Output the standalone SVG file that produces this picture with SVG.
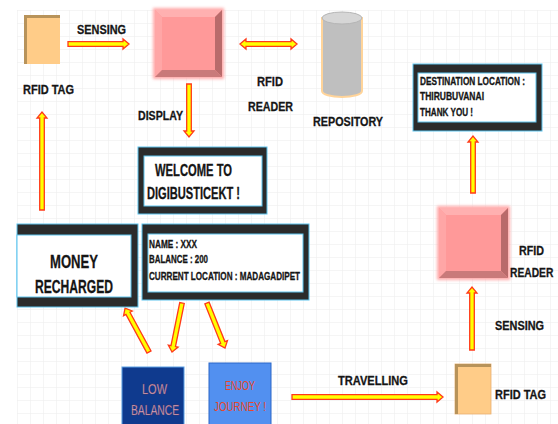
<svg xmlns="http://www.w3.org/2000/svg" width="558" height="424" viewBox="0 0 558 424">
<defs>
<pattern id="grid" x="17" y="10" width="13" height="13" patternUnits="userSpaceOnUse">
<path d="M0 0H13M0 0V13" fill="none" stroke="#ececec" stroke-width="1"/>
</pattern>
<filter id="glow" x="-20%" y="-20%" width="140%" height="140%"><feGaussianBlur stdDeviation="1.5"/></filter>
</defs>
<style>
.arr{fill:#ffff00;stroke:#ff3a1a;stroke-width:1.3;stroke-linejoin:miter}
.lbl{font-family:"Liberation Sans",Arial,sans-serif;font-weight:bold;fill:#151515;stroke:#151515;stroke-width:0.3}
.frame{fill:#2b2b2b;stroke:#5cc4ee;stroke-width:1}
.inner{fill:#ffffff;stroke:#5cc4ee;stroke-width:1}
.tag{fill:#ffcc88}
.tagedge{fill:#b8935a}
.box-text{font-family:"Liberation Sans",Arial,sans-serif}
</style>
<rect x="0" y="0" width="558" height="424" fill="#ffffff"/>
<rect x="17" y="10" width="541" height="414" fill="url(#grid)"/>

<g id="connectors">
<path class="arr" transform="translate(68,44)" d="M0,-2.3H55V-5L61,0L55,5V2.3H0Z"/>
<path class="arr" transform="translate(240,44)" d="M0,0L6,-5V-2.3H51V-5L57,0L51,5V2.3H6V5Z"/>
<path class="arr" transform="translate(189,84) rotate(90)" d="M0,-2.3H47V-5L53,0L47,5V2.3H0Z"/>
<path class="arr" transform="translate(42,210) rotate(-90)" d="M0,-2.3H92V-5L98,0L92,5V2.3H0Z"/>
<path class="arr" transform="translate(182,303) rotate(101.5)" d="M0,-2.3H44V-5L50,0L44,5V2.3H0Z"/>
<path class="arr" transform="translate(207,303) rotate(68.2)" d="M0,-2.3H42.5V-5L48.5,0L42.5,5V2.3H0Z"/>
<path class="arr" transform="translate(149,352) rotate(-118.6)" d="M0,-2.3H44V-5L50,0L44,5V2.3H0Z"/>
<path class="arr" transform="translate(292,397)" d="M0,-2.3H145V-5L151,0L145,5V2.3H0Z"/>
<path class="arr" transform="translate(472,350) rotate(-90)" d="M0,-2.3H57V-5L63,0L57,5V2.3H0Z"/>
<path class="arr" transform="translate(473,193) rotate(-90)" d="M0,-2.3H51V-5L57,0L51,5V2.3H0Z"/>
</g>

<g id="rfid-tag-top">
<rect class="tag" x="24" y="15" width="36" height="49"/>
<rect class="tagedge" x="24" y="15" width="3" height="49"/>
<rect class="tagedge" x="24" y="15" width="36" height="3"/>
<text class="lbl" x="23" y="94" font-size="13" textLength="51" lengthAdjust="spacingAndGlyphs">RFID TAG</text>
</g>
<text class="lbl" x="77" y="34" font-size="13" textLength="49" lengthAdjust="spacingAndGlyphs">SENSING</text>

<g id="rfid-reader-top">
<rect x="153" y="8" width="71" height="71" fill="#ffaaaa" filter="url(#glow)"/>
<rect x="155" y="10" width="67" height="67" fill="#ff9999"/>
<polygon points="155,10 222,10 215,17 162,17" fill="#ffb0b0"/>
<polygon points="155,10 162,17 162,70 155,77" fill="#ffa6a6"/>
<polygon points="222,10 222,77 215,70 215,17" fill="#b96b6b"/>
<polygon points="155,77 222,77 215,70 162,70" fill="#c97a7a"/>
<text class="lbl" x="257" y="86" font-size="13" textLength="26" lengthAdjust="spacingAndGlyphs">RFID</text>
<text class="lbl" x="248" y="111" font-size="13" textLength="45" lengthAdjust="spacingAndGlyphs">READER</text>
</g>
<text class="lbl" x="138" y="120" font-size="13" textLength="45" lengthAdjust="spacingAndGlyphs">DISPLAY</text>

<g id="repository">
<path d="M322,18V91A20,6 0 0 0 362,91V18Z" fill="#bfbfbf" stroke="#ffd49a" stroke-width="2"/>
<ellipse cx="342" cy="18" rx="20" ry="6" fill="#d6d6d6" stroke="#b5b5b5" stroke-width="1"/>
<text class="lbl" x="313" y="126" font-size="13" textLength="70" lengthAdjust="spacingAndGlyphs">REPOSITORY</text>
</g>

<g id="destination">
<rect class="frame" x="413" y="64" width="129" height="67"/>
<rect class="inner" x="418" y="73" width="118" height="49"/>
<text class="lbl" x="420" y="85" font-size="10" textLength="105" lengthAdjust="spacingAndGlyphs">DESTINATION LOCATION :</text>
<text class="lbl" x="420" y="100" font-size="10" textLength="64" lengthAdjust="spacingAndGlyphs">THIRUBUVANAI</text>
<text class="lbl" x="420" y="116" font-size="10" textLength="53" lengthAdjust="spacingAndGlyphs">THANK YOU !</text>
</g>

<g id="welcome">
<rect class="frame" x="138" y="147" width="129" height="67"/>
<rect class="inner" x="144" y="156" width="118" height="50"/>
<text class="lbl" x="155" y="176" font-size="16" textLength="77" lengthAdjust="spacingAndGlyphs">WELCOME TO</text>
<text class="lbl" x="147" y="199" font-size="16" textLength="93" lengthAdjust="spacingAndGlyphs">DIGIBUSTICEKT !</text>
</g>

<g id="money-recharged">
<rect class="frame" x="17" y="224" width="121" height="83"/>
<rect class="inner" x="17" y="235" width="114" height="62"/>
<text class="lbl" x="50" y="268" font-size="19" textLength="48" lengthAdjust="spacingAndGlyphs">MONEY</text>
<text class="lbl" x="35" y="293" font-size="19" textLength="78" lengthAdjust="spacingAndGlyphs">RECHARGED</text>
</g>

<g id="user-info">
<rect class="frame" x="142" y="224" width="167" height="76"/>
<rect class="inner" x="148" y="234" width="155" height="58"/>
<text class="lbl" x="149" y="248" font-size="11" textLength="48" lengthAdjust="spacingAndGlyphs">NAME : XXX</text>
<text class="lbl" x="149" y="263" font-size="11" textLength="59" lengthAdjust="spacingAndGlyphs">BALANCE : 200</text>
<text class="lbl" x="149" y="280" font-size="11" textLength="151" lengthAdjust="spacingAndGlyphs">CURRENT LOCATION : MADAGADIPET</text>
</g>

<g id="low-balance">
<rect x="122" y="367" width="62" height="60" fill="#0f3a8e" stroke="#5aa0e6" stroke-width="1"/>
<text class="box-text" x="142" y="394" font-size="14" fill="#e2b0c2" stroke="#5a2a4a" stroke-width="0.3" textLength="25" lengthAdjust="spacingAndGlyphs">LOW</text>
<text class="box-text" x="131" y="415" font-size="14" fill="#e2b0c2" stroke="#5a2a4a" stroke-width="0.3" textLength="48" lengthAdjust="spacingAndGlyphs">BALANCE</text>
</g>

<g id="enjoy-journey">
<rect x="209" y="363" width="62" height="64" fill="#5290f0" stroke="#2a66c8" stroke-width="1"/>
<text class="box-text" x="225" y="390" font-size="13" fill="#e8472a" textLength="30" lengthAdjust="spacingAndGlyphs">ENJOY</text>
<text class="box-text" x="214" y="411" font-size="13" fill="#e8472a" textLength="52" lengthAdjust="spacingAndGlyphs">JOURNEY !</text>
</g>

<text class="lbl" x="338" y="385" font-size="13" textLength="70" lengthAdjust="spacingAndGlyphs">TRAVELLING</text>

<g id="rfid-tag-bottom">
<rect class="tag" x="455" y="364" width="36" height="50" stroke="#e8b070" stroke-width="0.8"/>
<rect class="tagedge" x="455" y="364" width="3" height="50"/>
<rect class="tagedge" x="455" y="364" width="36" height="3"/>
<text class="lbl" x="495" y="399" font-size="13" textLength="51" lengthAdjust="spacingAndGlyphs">RFID TAG</text>
</g>
<text class="lbl" x="495" y="330" font-size="13" textLength="49" lengthAdjust="spacingAndGlyphs">SENSING</text>

<g id="rfid-reader-right">
<rect x="437" y="206" width="73" height="74" fill="#ffaaaa" filter="url(#glow)"/>
<rect x="439" y="208" width="69" height="70" fill="#ff9999"/>
<polygon points="439,208 508,208 501,215 446,215" fill="#ffb0b0"/>
<polygon points="439,208 446,215 446,271 439,278" fill="#ffa6a6"/>
<polygon points="508,208 508,278 501,271 501,215" fill="#b96b6b"/>
<polygon points="439,278 508,278 501,271 446,271" fill="#c97a7a"/>
<text class="lbl" x="519" y="255" font-size="13" textLength="25" lengthAdjust="spacingAndGlyphs">RFID</text>
<text class="lbl" transform="translate(510,277) scale(0.79,1)" x="0" y="0" font-size="13">READER</text>
</g>
</svg>
